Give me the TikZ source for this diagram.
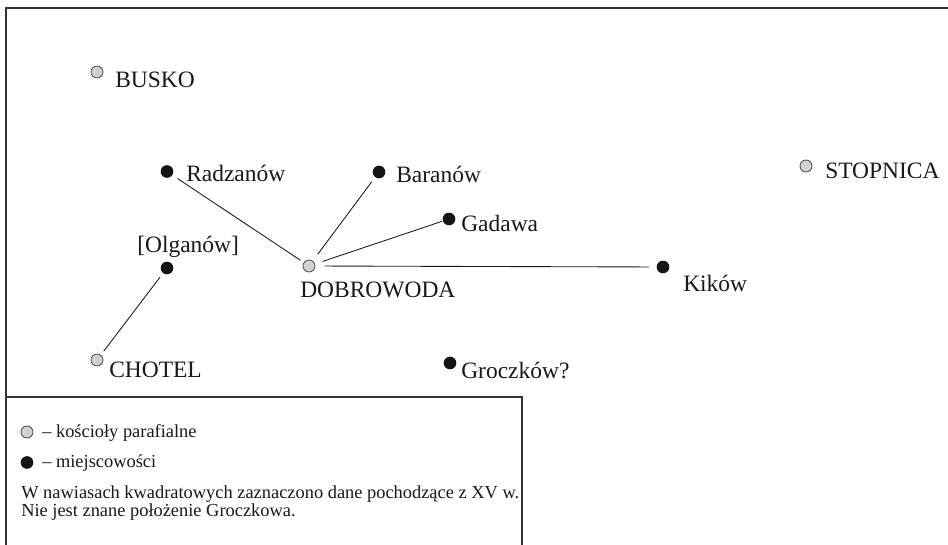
\documentclass[tikz,border=0pt]{standalone}
\usepackage{fontspec}
\setmainfont{Liberation Serif}
\begin{document}
\begin{tikzpicture}[x=0.75pt,y=-0.75pt,
  frame/.style={draw=black!80, line width=1pt},
  church/.style={circle, draw=black!75, fill=black!18, line width=0.55pt, inner sep=0pt, minimum size=9pt},
  place/.style={circle, fill=black!92, inner sep=0pt, minimum size=9.5pt},
  lbl/.style={anchor=base west, inner sep=0pt, font=\fontsize{17.6}{20}\selectfont, text=black!90},
  leg/.style={anchor=base west, inner sep=0pt, font=\fontsize{13.8}{16}\selectfont, text=black!90},
  conn/.style={draw=black!90, line width=0.65pt}]
\useasboundingbox (0,0) rectangle (948,545);
\fill[white] (0,0) rectangle (948,545);
\draw[frame] (6,545) -- (6,8) -- (948,8);
\draw[frame, line width=0.8pt] (6,397) -- (522,397) -- (522,545);

% places
\node[church] (busko) at (97,72) {};
\node[lbl] (buskoL) at (115,88) {BUSKO};
\node[place] (radz) at (167,171.5) {};
\node[lbl] (radzL) at (186,182) {Radzanów};
\node[place] (bar) at (379,172) {};
\node[lbl] (barL) at (396,183) {Baranów};
\node[place] (gad) at (449,219) {};
\node[lbl] (gadL) at (461,231) {Gadawa};
\node[church] (dob) at (309,266) {};
\node[lbl] (dobL) at (300,297) {DOBROWODA};
\node[place] (kik) at (663,267) {};
\node[lbl] (kikL) at (683,291) {Kików};
\node[place] (olg) at (167,268) {};
\node[lbl] (olgL) at (137,252) {[Olganów]};
\node[church] (cho) at (97,360) {};
\node[lbl] (choL) at (109,377) {CHOTEL};
\node[place] (gro) at (450,363) {};
\node[lbl] (groL) at (461,378) {Groczków?};
\node[church] (sto) at (806,166) {};
\node[lbl] (stoL) at (825,179) {STOPNICA};

% connectors
\draw[conn, shorten <=4.6pt, shorten >=2.9pt] (radz) -- (dob);
\draw[conn, shorten <=4.2pt, shorten >=6.1pt] (bar) -- (dob);
\draw[conn, shorten <=0.5pt, shorten >=5.9pt] (gad) -- (dob);
\draw[conn, shorten <=6.9pt, shorten >=5.6pt] (dob) -- (kik);
\draw[conn, shorten <=3.9pt, shorten >=3.6pt] (olg) -- (cho);

% legend
\node[church] (legC) at (27,432) {};
\node[leg] (legCT) at (42,437.5) {– kościoły parafialne};
\node[place] (legP) at (27,462.5) {};
\node[leg] (legPT) at (42,467) {– miejscowości};
\node[leg] (note1) at (21,498) {W nawiasach kwadratowych zaznaczono dane pochodzące z XV w.};
\node[leg] (note2) at (21,516) {Nie jest znane położenie Groczkowa.};
\end{tikzpicture}
\end{document}
